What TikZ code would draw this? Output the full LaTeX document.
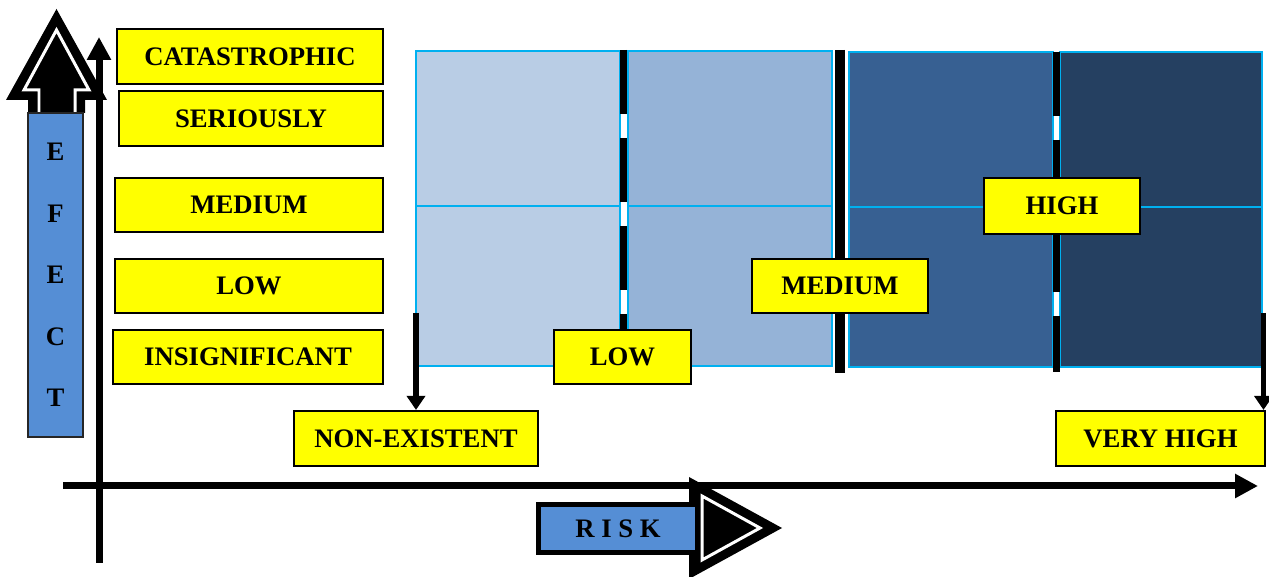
\documentclass[tikz,border=0pt]{standalone}
\usepackage{fontspec}
\setmainfont{Liberation Serif}
\usetikzlibrary{arrows.meta}
\definecolor{lemon}{HTML}{FFFF00}
\definecolor{sky}{HTML}{558ED5}
\definecolor{edge}{HTML}{00B0F0}
\definecolor{riskA}{HTML}{B9CDE5}
\definecolor{riskB}{HTML}{95B3D7}
\definecolor{riskC}{HTML}{376092}
\definecolor{riskD}{HTML}{254061}
\newcommand{\lf}{\bfseries\fontsize{15.2}{17}\selectfont}
\newcommand{\lfv}{\bfseries\fontsize{15.2}{35}\selectfont}
\tikzset{
  lvl/.style   ={draw=black, line width=1.2pt, fill=lemon, inner sep=0pt, minimum height=1.08cm, font=\lf},
  tagbox/.style={draw=black!85, line width=.8pt, fill=sky, inner sep=0pt, align=center, font=\lf},
  cell/.style  ={draw=edge, line width=.9pt},
  sep/.style   ={line width=.2cm},
  sepd/.style  ={line width=.14cm, dash pattern=on 1.28cm off .48cm},
  axis/.style  ={line width=.14cm, -{Triangle[width=.46cm,length=.46cm]}},
  drop/.style  ={line width=.11cm, -{Triangle[width=.36cm,length=.28cm]}},
  hollow/.style={white, line width=.06cm, line join=miter},
}

\begin{document}
\begin{tikzpicture}[x=.02cm,y=-.02cm]
    \useasboundingbox (0,0) rectangle (1269,577);

    % risk grid
    \draw[cell,fill=riskA] (416,51) rectangle (620,206) (416,206) rectangle (620,366);
    \draw[cell,fill=riskB] (628,51) rectangle (832,206) (628,206) rectangle (832,366);
    \draw[cell,fill=riskC] (849,52) rectangle (1053,207) (849,207) rectangle (1053,367);
    \draw[cell,fill=riskD] (1060,52) rectangle (1262,207) (1060,207) rectangle (1262,367);

    \draw[sepd] (623.5,50) -- (623.5,380);
    \draw[sep]  (840,50) -- (840,373);
    \draw[sepd] (1056,52) -- (1056,372);

    % axes
    \coordinate (ybot) at (99,563);
    \coordinate (ytop) at (99,37);
    \coordinate (xlft) at (63,486);
    \coordinate (xrgt) at (1258,486);
    \draw[axis] (ybot) -- (ytop);
    \draw[axis] (xlft) -- (xrgt);

    % effect arrow
    \fill (28,113) -- (28,100) -- (6,100) -- (56.5,9) -- (107,100) -- (85,100) -- (85,113) -- cycle;
    \draw[hollow] (39,113) -- (39,90) -- (24,90) -- (56.5,30) -- (89,90) -- (75,90) -- (75,113);
    \node[tagbox,minimum width=1.1cm,minimum height=6.48cm,font=\lfv] (efect) at (55.5,275)
      {E\\F\\E\\C\\T};

    % risk arrow
    \fill (689,477) -- (782,528) -- (689,579) -- cycle;
    \draw[hollow] (702,496) -- (760,528) -- (702,560) -- cycle;
    \node[tagbox,draw=black,line width=.1cm,minimum width=3.2cm,minimum height=.98cm] (risk) at (618,528.5) {R I S K};

    % effect levels
    \node[lvl,minimum width=5.32cm,minimum height=1.1cm] (cat) at (250,56.5) {CATASTROPHIC};
    \node[lvl,minimum width=5.28cm,minimum height=1.1cm] (ser) at (251,118.5) {SERIOUSLY};
    \node[lvl,minimum width=5.36cm] (med) at (249,205) {MEDIUM};
    \node[lvl,minimum width=5.36cm] (low) at (249,286) {LOW};
    \node[lvl,minimum width=5.4cm]  (ins) at (248,357) {INSIGNIFICANT};

    % risk levels
    \node[lvl,minimum width=4.88cm,minimum height=1.1cm] (nonex) at (416,438.5) {NON-EXISTENT};
    \node[lvl,minimum width=4.18cm,minimum height=1.1cm] (vhigh) at (1160.5,438.5) {VERY HIGH};
    \node[lvl,minimum width=2.74cm] (glow) at (622.5,357) {LOW};
    \node[lvl,minimum width=3.52cm] (gmed) at (840,286) {MEDIUM};
    \node[lvl,minimum width=3.12cm,minimum height=1.12cm] (ghigh) at (1062,206) {HIGH};

    \coordinate (n0) at (416,313);
    \coordinate (n4) at (1263.5,313);
    \draw[drop] (n0) -- (nonex.north);
    \draw[drop] (n4) -- (n4 |- vhigh.north);
\end{tikzpicture}
\end{document}
